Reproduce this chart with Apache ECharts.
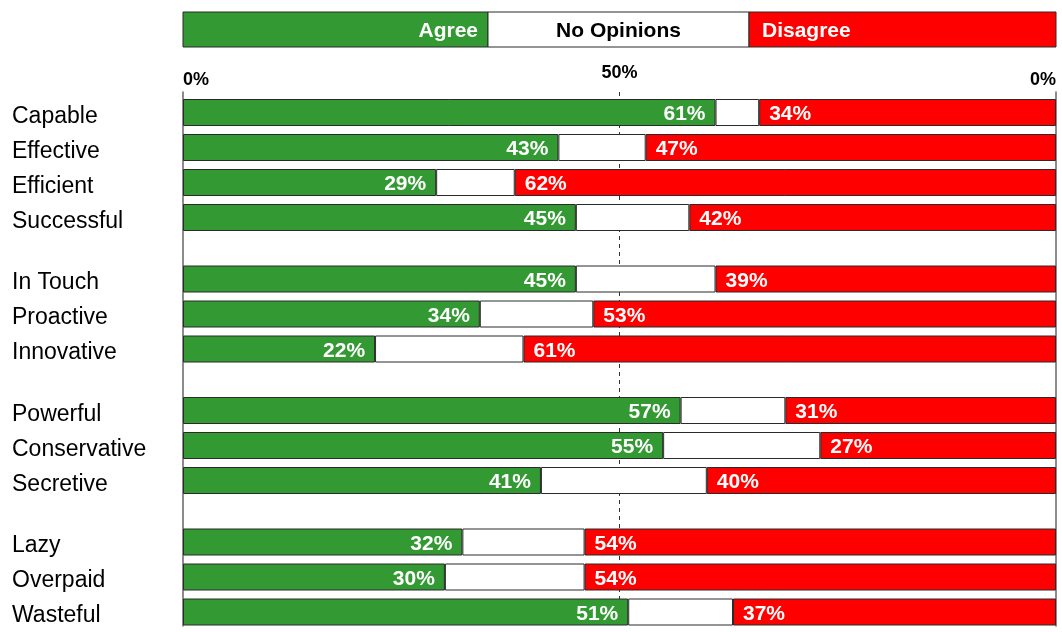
<!DOCTYPE html>
<html>
<head>
<meta charset="utf-8">
<script src="https://cdn.jsdelivr.net/npm/echarts@6/dist/echarts.min.js"></script>
<style>
  html, body { margin: 0; padding: 0; background: #fff; }
  #chart { width: 1062px; height: 632px; }
</style>
</head>
<body>
<div id="chart"></div>
<script>
// Attribute groups, listed top to bottom
const categoryGroups = [
  ['Capable', 'Effective', 'Efficient', 'Successful'],
  ['In Touch', 'Proactive', 'Innovative'],
  ['Powerful', 'Conservative', 'Secretive'],
  ['Lazy', 'Overpaid', 'Wasteful']
];

// Shares of respondents (%), in the same order as the categories above
const agree      = [61, 43, 29, 45, 45, 34, 22, 57, 55, 41, 32, 30, 51];
const noOpinion  = [ 5, 10,  9, 13, 16, 13, 17, 12, 18, 19, 14, 16, 12];
const disagree   = [34, 47, 62, 42, 39, 53, 61, 31, 27, 40, 54, 54, 37];

// Top scale
const xTickValues = [0, 50, 100];
const xTickLabels = ['0%', '50%', '0%'];

// Key labels
const legendLabels = ['Agree', 'No Opinions', 'Disagree'];

const FONT = 'Arial, "Liberation Sans", sans-serif';
const GREEN = '#339933';
const RED = '#ff0000';
const EDGE = '#2a2a2a';

const layout = {
  left: 183, right: 6, top: 95,
  rowH: 35, gap: 26.5, barW: 27,
  legendTop: 12, legendH: 35, legendSplits: [488, 749], legendEnd: 1056
};

const grids = [], xAxes = [], yAxes = [], series = [];
let offset = 0;
let gridTop = layout.top;

categoryGroups.forEach((cats, g) => {
  const h = cats.length * layout.rowH;
  grids.push({ left: layout.left, right: layout.right, top: gridTop, height: h });
  xAxes.push({ type: 'value', gridIndex: g, min: 0, max: 100, show: false });
  yAxes.push({
    type: 'category', gridIndex: g, data: cats, inverse: true,
    axisLine: { show: false }, axisTick: { show: false }, splitLine: { show: false },
    axisLabel: {
      align: 'left', margin: layout.left - 12,
      formatter: v => '{n|' + v + '}',
      rich: { n: { fontSize: 23, color: '#000', fontFamily: FONT, padding: [8, 0, 0, 0] } }
    }
  });
  const part = arr => arr.slice(offset, offset + cats.length);
  const base = {
    type: 'bar', stack: 'g' + g, xAxisIndex: g, yAxisIndex: g,
    barWidth: layout.barW
  };
  series.push(Object.assign({}, base, {
    name: legendLabels[0], data: part(agree),
    itemStyle: { color: GREEN, borderColor: EDGE, borderWidth: 1 },
    label: { show: true, position: 'insideRight', distance: 10, offset: [0, 2], formatter: '{c}%',
             color: '#fff', fontWeight: 'bold', fontSize: 21, fontFamily: FONT }
  }));
  series.push(Object.assign({}, base, {
    name: legendLabels[1], data: part(noOpinion),
    itemStyle: { color: '#fff', borderColor: EDGE, borderWidth: 1 }
  }));
  series.push(Object.assign({}, base, {
    name: legendLabels[2], data: part(disagree),
    itemStyle: { color: RED, borderColor: EDGE, borderWidth: 1 },
    label: { show: true, position: 'insideLeft', distance: 10, offset: [0, 2], formatter: '{c}%',
             color: '#fff', fontWeight: 'bold', fontSize: 21, fontFamily: FONT }
  }));
  offset += cats.length;
  gridTop += h + layout.gap;
});

// Frame grid: top scale, side rules and the dashed midline
const frame = categoryGroups.length;
grids.push({ left: layout.left, right: layout.right, top: 92, bottom: 6 });
xAxes.push({
  type: 'value', gridIndex: frame, position: 'top',
  min: xTickValues[0], max: xTickValues[xTickValues.length - 1],
  interval: xTickValues[1] - xTickValues[0],
  axisLine: { show: false }, axisTick: { show: false },
  axisLabel: {
    margin: 3,
    alignMinLabel: 'left', alignMaxLabel: 'right',
    formatter: v => {
      const t = xTickLabels[xTickValues.indexOf(v)];
      return v === 50 ? '{mid|' + t + '}' : '{end|' + t + '}';
    },
    rich: {
      end: { fontSize: 18, fontWeight: 'bold', color: '#000', fontFamily: FONT },
      mid: { fontSize: 18, fontWeight: 'bold', color: '#000', fontFamily: FONT, padding: [0, 0, 7, 0] }
    }
  },
  splitLine: { show: true, showMinLine: false, showMaxLine: false,
               lineStyle: { color: '#333', type: [4, 4], width: 1 } }
});
yAxes.push({
  type: 'value', gridIndex: frame, position: 'left', min: 0, max: 1,
  axisLine: { show: true, lineStyle: { color: '#666', width: 1.5 } },
  axisTick: { show: false }, axisLabel: { show: false }, splitLine: { show: false }
});
yAxes.push({
  type: 'value', gridIndex: frame, position: 'right', min: 0, max: 1,
  axisLine: { show: true, lineStyle: { color: '#666', width: 1.5 } },
  axisTick: { show: false }, axisLabel: { show: false }, splitLine: { show: false }
});

// Colour key drawn as a single segmented strip above the scale
const lx = [layout.left, layout.legendSplits[0], layout.legendSplits[1], layout.legendEnd];
const keyFills = [GREEN, '#fff', RED];
const keyText = ['#fff', '#000', '#fff'];
const midY = layout.legendTop + layout.legendH / 2 + 2;
const graphic = [];
keyFills.forEach((fill, i) => {
  graphic.push({
    type: 'rect',
    shape: { x: lx[i], y: layout.legendTop, width: lx[i + 1] - lx[i], height: layout.legendH },
    style: { fill: fill, stroke: EDGE, lineWidth: 1 }
  });
});
const keyAnchors = [
  { x: lx[1] - 10, align: 'right' },
  { x: (lx[1] + lx[2]) / 2, align: 'center' },
  { x: lx[2] + 13, align: 'left' }
];
legendLabels.forEach((txt, i) => {
  graphic.push({
    type: 'text', x: keyAnchors[i].x, y: midY,
    style: { text: txt, fill: keyText[i], font: 'bold 21px ' + FONT,
             textAlign: keyAnchors[i].align, textVerticalAlign: 'middle' }
  });
});

const chart = echarts.init(document.getElementById('chart'), null, { renderer: 'canvas' });
chart.setOption({
  animation: false,
  backgroundColor: '#fff',
  grid: grids,
  xAxis: xAxes,
  yAxis: yAxes,
  series: series,
  graphic: graphic
});
</script>
</body>
</html>
